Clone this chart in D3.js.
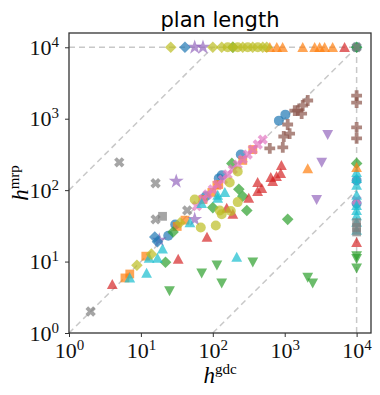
<!DOCTYPE html>
<meta charset="utf-8">
<style>
  body { margin: 0; background: #fff; }
  .ref { fill: none; stroke: #c8c8c8; stroke-width: 1.5; stroke-dasharray: 6,4; }
  .tick line { stroke: #333; }
  .tick text { font-family: "Liberation Serif", serif; fill: #111; }
</style>
<svg width="380" height="395"></svg>
<script src="https://d3js.org/d3.v7.min.js"></script>
<script>

  // values: [h_gdc, h_mrp]
  var blueCircles = [[830,940],[1020,1140],[245,316],[133,161],[121,146],[80,82],[24,23],[30,33],[10000,137],[10000,65],[10000,10000]];
  var orangeSquares = [[6,5.9],[7,6.7],[11.7,11.9],[32,31],[41,38],[73,74],[97,93],[114,117],[121,120],[261,261],[360,370]];
  var greenDiamonds = [[22,9.8],[28,26],[100,57],[184,237],[230,103],[261,82],[297,52],[1100,39],[190,10000],[10000,237],[10000,10000]];
  var redTriangles = [[4,4.8],[33,10.8],[83,22],[156,56],[190,46],[316,77],[420,128],[480,106],[420,96],[640,151],[680,133],[770,156],[880,172],[900,222],[6800,10000],[10000,18.6]];
  var purpleStars = [[18,20],[31,133],[56,39],[56,10000],[73,10000]];
  var brownPlus = [[620,384],[940,396],[970,564],[1100,830],[1170,620],[1380,1300],[1520,1300],[1720,1180],[1780,1530],[2090,1800],[10000,2110],[10000,1680],[10000,754],[10000,529]];
  var pinkCross = [[60,60],[73,75],[85,87],[100,102],[117,120],[138,140],[161,166],[190,195],[222,228],[261,270],[306,315],[359,370],[422,435],[495,510],[10000,72]];
  var grayCross = [[2,2],[5,245],[16,125],[16,39],[44,52],[10000,10000]];
  var oliveCircles = [[56,74],[68,30],[110,32],[125,52],[133,46],[172,128],[178,51],[222,183],[222,68],[161,10000],[222,10000],[306,10000],[422,10000]];
  var cyanTriangles = [[7,5.9],[12,6.9],[13,11.2],[17,11.2],[20,15],[48,35],[70,65],[117,85],[117,77],[147,93],[215,11.5],[10000,177],[10000,146],[10000,117],[10000,85],[10000,61],[10000,52],[10000,44],[10000,35.5],[10000,27.5]];
  var blueDiamonds = [[15.6,22],[17,19],[41,10000]];
  var orangeTriangles = [[2090,200],[620,10000],[776,10000],[935,10000],[1780,10000],[2610,10000],[3060,10000],[3590,10000],[4640,10000],[10000,208]];
  var greenDown = [[25,3.9],[70,6.9],[114,8.9],[133,5],[360,9.8],[2090,6],[2450,5],[10000,12],[10000,11],[10000,8.1]];
  var purpleDown = [[2780,74],[3270,245],[3960,600]];
  var graySquares = [[20,43],[10000,35],[10000,30],[10000,26]];
  var oliveDiamonds = [[8.8,8.9],[14,12.7],[35,35],[26,10000],[100,10000],[133,10000],[190,10000],[261,10000],[359,10000],[495,10000],[562,10000]];

  var tickValues = [1, 10, 100, 1000, 10000];
  var tickExps = ["0", "1", "2", "3", "4"];

  // dashed guide lines
  var guides = [
    [[1, 1], [10000, 10000]],
    [[1, 100], [100, 10000]],
    [[100, 1], [10000, 100]],
    [[1, 10000], [10000, 10000]],
    [[10000, 1], [10000, 10000]]
  ];

  var series = [
    { pts: blueCircles, color: "#1f77b4", marker: "o" },
    { pts: orangeSquares, color: "#ff7f0e", marker: "s" },
    { pts: greenDiamonds, color: "#2ca02c", marker: "D" },
    { pts: redTriangles, color: "#d62728", marker: "^" },
    { pts: purpleStars, color: "#9467bd", marker: "*" },
    { pts: brownPlus, color: "#8c564b", marker: "P" },
    { pts: pinkCross, color: "#e377c2", marker: "X" },
    { pts: grayCross, color: "#7f7f7f", marker: "X" },
    { pts: oliveCircles, color: "#bcbd22", marker: "o" },
    { pts: cyanTriangles, color: "#17becf", marker: "^" },
    { pts: blueDiamonds, color: "#1f77b4", marker: "D" },
    { pts: orangeTriangles, color: "#ff7f0e", marker: "^" },
    { pts: greenDown, color: "#2ca02c", marker: "v" },
    { pts: purpleDown, color: "#9467bd", marker: "v" },
    { pts: graySquares, color: "#7f7f7f", marker: "s" },
    { pts: oliveDiamonds, color: "#bcbd22", marker: "D" }
  ];

  var svg = d3.select("svg");
  var plotL = 69, plotR = 371, plotT = 33, plotB = 333;
  var maxV = Math.pow(10, 4.2);

  var x = d3.scaleLog().domain([1, maxV]).range([plotL, plotR]);
  var y = d3.scaleLog().domain([1, maxV]).range([plotB, plotT]);

  // marker shapes, roughly like matplotlib's
  function markerPath(m) {
    var r = 5;
    switch (m) {
      case "o":
        return d3.symbol(d3.symbolCircle, Math.PI * r * r)();
      case "s":
        return "M-4.4,-4.4H4.4V4.4H-4.4Z";
      case "^":
        return "M0,-5.4L-5.4,4.6L5.4,4.6Z";
      case "v":
        return "M0,5.4L-5.4,-4.6L5.4,-4.6Z";
      case "D":
        return "M0,-5.8L5.8,0L0,5.8L-5.8,0Z";
      case "*":
        return d3.symbol(d3.symbolStar, 70)();
      case "P":
      case "X":
        var a = 5.4, w = 1.9;
        return "M" + -w + "," + -a + "H" + w + "V" + -w + "H" + a + "V" + w + "H" + w +
          "V" + a + "H" + -w + "V" + w + "H" + -a + "V" + -w + "H" + -w + "Z";
    }
  }

  // guides
  svg.append("g")
    .selectAll("path")
    .data(guides)
    .enter().append("path")
    .attr("class", "ref")
    .attr("d", d3.line().x(d => x(d[0])).y(d => y(d[1])));

  // points
  series.forEach(function (s) {
    svg.append("g")
      .attr("fill", s.color)
      .attr("fill-opacity", 0.7)
      .selectAll("path")
      .data(s.pts)
      .enter().append("path")
      .attr("transform", function (d) {
        var t = "translate(" + x(d[0]) + "," + y(d[1]) + ")";
        return s.marker == "X" ? t + " rotate(45)" : t;
      })
      .attr("d", markerPath(s.marker));
  });

  // frame
  svg.append("rect")
    .attr("x", plotL).attr("y", plotT)
    .attr("width", plotR - plotL).attr("height", plotB - plotT)
    .attr("fill", "none")
    .attr("stroke", "#333")
    .attr("stroke-width", 1.3);

  // axes
  var xAxis = svg.append("g")
    .attr("transform", "translate(0," + plotB + ")")
    .call(d3.axisBottom(x).tickValues(tickValues).tickSize(4).tickFormat(""));
  xAxis.select(".domain").remove();
  xAxis.selectAll(".tick").each(function (d, i) {
    var t = d3.select(this).append("text")
      .attr("y", 25)
      .attr("text-anchor", "middle")
      .attr("font-size", 22);
    t.append("tspan").text("10");
    t.append("tspan").attr("dy", -8).attr("font-size", 15).text(tickExps[i]);
  });

  var yAxis = svg.append("g")
    .attr("transform", "translate(" + plotL + ",0)")
    .call(d3.axisLeft(y).tickValues(tickValues).tickSize(4).tickFormat(""));
  yAxis.select(".domain").remove();
  yAxis.selectAll(".tick").each(function (d, i) {
    var t = d3.select(this).append("text")
      .attr("x", -10)
      .attr("y", 7)
      .attr("text-anchor", "end")
      .attr("font-size", 22);
    t.append("tspan").text("10");
    t.append("tspan").attr("dy", -8).attr("font-size", 15).text(tickExps[i]);
  });

  // title
  svg.append("text")
    .attr("x", (plotL + plotR) / 2)
    .attr("y", 27)
    .attr("text-anchor", "middle")
    .attr("font-family", "DejaVu Sans, sans-serif")
    .attr("font-size", 21)
    .text("plan length");

  // axis labels
  var xl = svg.append("text")
    .attr("x", (plotL + plotR) / 2)
    .attr("y", 383)
    .attr("text-anchor", "middle")
    .attr("font-family", "Liberation Serif, serif")
    .attr("font-size", 23);
  xl.append("tspan").attr("font-style", "italic").text("h");
  xl.append("tspan").attr("dy", -9).attr("font-size", 15).text("gdc");

  var yl = svg.append("text")
    .attr("transform", "translate(28," + (plotT + plotB) / 2 + ") rotate(-90)")
    .attr("text-anchor", "middle")
    .attr("font-family", "Liberation Serif, serif")
    .attr("font-size", 23);
  yl.append("tspan").attr("font-style", "italic").text("h");
  yl.append("tspan").attr("dy", -9).attr("font-size", 15).text("mrp");

</script>
